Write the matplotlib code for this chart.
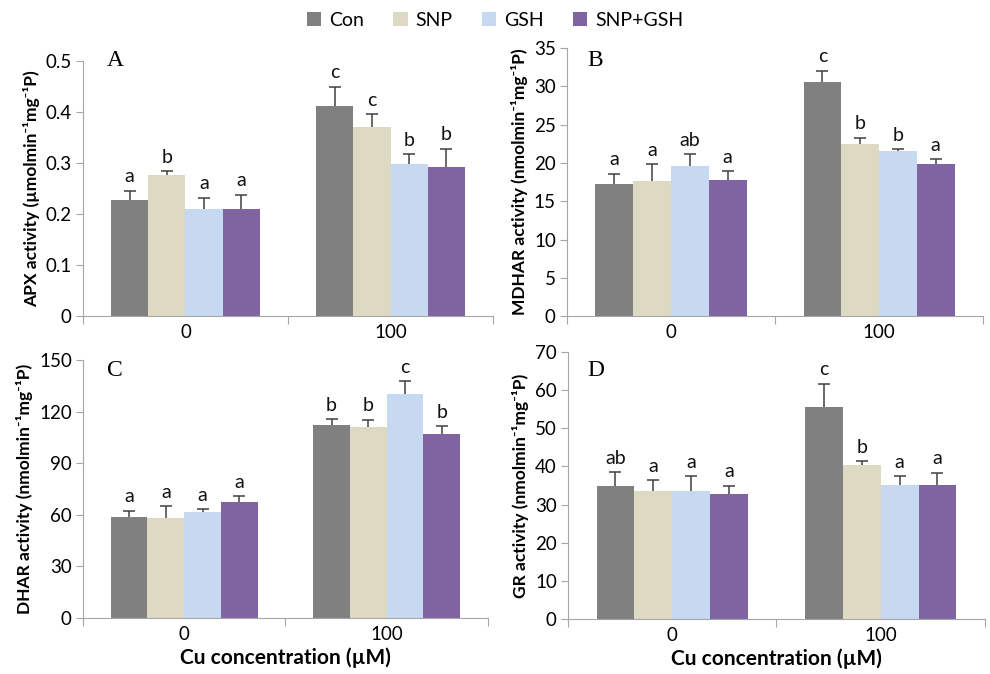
import numpy as np
import matplotlib
matplotlib.use("Agg")
import matplotlib.pyplot as plt
from matplotlib.patches import Patch

plt.rcParams['font.family'] = ['Lato', 'DejaVu Sans']

# data
groups = ["0", "100"]
treatments = ["Con", "SNP", "GSH", "SNP+GSH"]
colors = ["#808080", "#ddd9c3", "#c6d9f1", "#8064a2"]

apx_mean = [[0.227, 0.411], [0.277, 0.371], [0.210, 0.299], [0.209, 0.292]]
apx_err = [[0.019, 0.038], [0.007, 0.025], [0.022, 0.018], [0.029, 0.036]]
apx_lab = [["a", "c"], ["b", "c"], ["a", "b"], ["a", "b"]]

mdhar_mean = [[17.2, 30.6], [17.7, 22.5], [19.6, 21.6], [17.8, 19.8]]
mdhar_err = [[1.4, 1.4], [2.1, 0.8], [1.5, 0.2], [1.1, 0.7]]
mdhar_lab = [["a", "c"], ["a", "b"], ["ab", "b"], ["a", "a"]]

dhar_mean = [[58.8, 112.1], [58.3, 111.1], [61.4, 130.3], [67.4, 107.2]]
dhar_err = [[3.5, 3.4], [6.7, 4.1], [1.9, 7.3], [3.4, 4.1]]
dhar_lab = [["a", "b"], ["a", "b"], ["a", "c"], ["a", "b"]]

gr_mean = [[35.0, 55.7], [33.5, 40.3], [33.5, 35.2], [32.7, 35.2]]
gr_err = [[3.5, 6.0], [2.9, 1.1], [3.9, 2.2], [2.2, 3.2]]
gr_lab = [["ab", "c"], ["a", "b"], ["a", "a"], ["a", "a"]]

panels = [
    ("A", apx_mean, apx_err, apx_lab, 0.5, 0.1, "APX activity (µmolmin⁻¹mg⁻¹P)", [0.0838, 0.531, 0.4142, 0.3785], (0.078, 1.0)),
    ("B", mdhar_mean, mdhar_err, mdhar_lab, 35, 5, "MDHAR activity (nmolmin⁻¹mg⁻¹P)", [0.5727, 0.531, 0.4203, 0.3978], (0.067, 0.955)),
    ("C", dhar_mean, dhar_err, dhar_lab, 150, 30, "DHAR activity (nmolmin⁻¹mg⁻¹P)", [0.0838, 0.0831, 0.4091, 0.3829], (0.079, 0.96)),
    ("D", gr_mean, gr_err, gr_lab, 70, 10, "GR activity (nmolmin⁻¹mg⁻¹P)", [0.5737, 0.0816, 0.4212, 0.3961], (0.067, 0.93)),
]

fig = plt.figure(figsize=(9.9, 6.74), dpi=100)
axis_col = "#a6a6a6"
bw = 0.1815
x = np.array([0.5, 1.5])

for name, means, errs, labs, ymax, ystep, ylabel, rect, lpos in panels:
    ax = fig.add_axes(rect)
    for i in range(4):
        xi = x + (i - 1.5) * bw
        ax.bar(xi, means[i], bw, color=colors[i], edgecolor="none", zorder=2)
        # symmetric bars drawn under the bars, so only the upper half shows
        ax.errorbar(xi, means[i], yerr=errs[i], fmt="none",
                    ecolor="#404040", elinewidth=1.1, capsize=4, capthick=1.1, zorder=1)
        for j in range(2):
            ax.annotate(labs[i][j], (xi[j], means[i][j] + errs[i][j]),
                        xytext=(0, 4), textcoords="offset points",
                        ha="center", va="bottom", fontsize=14, color="#111111")
    ax.set_xlim(0, 2)
    ax.set_ylim(0, ymax)
    ax.set_yticks(np.arange(0, ymax + ystep / 2, ystep))
    if name == "A":
        ax.set_yticklabels(["0"] + ["%.1f" % v for v in np.arange(0.1, 0.51, 0.1)])
    ax.set_xticks([0, 1, 2])
    ax.set_xticklabels([])
    ax.set_xticks(x, minor=True)
    ax.set_xticklabels(groups, minor=True, fontsize=13.5)
    ax.tick_params(axis="x", which="minor", length=0, pad=6)
    ax.tick_params(axis="x", which="major", length=6, color=axis_col, direction="out")
    ax.tick_params(axis="y", length=5, color=axis_col, labelsize=13.5, pad=3)
    for s in ["top", "right"]:
        ax.spines[s].set_visible(False)
    for s in ["left", "bottom"]:
        ax.spines[s].set_color(axis_col)
    ax.set_ylabel(ylabel, fontsize=12.5, fontweight="bold", labelpad=4)
    ax.text(lpos[0], lpos[1], name, transform=ax.transAxes, ha="center", va="center",
            fontsize=17, family="Liberation Serif")
    if name in ("C", "D"):
        ax.set_xlabel("Cu concentration (µM)", fontsize=15, fontweight="bold", labelpad=3)

handles = [Patch(facecolor=c, edgecolor="none") for c in colors]
fig.legend(handles, treatments, loc="upper center", bbox_to_anchor=(0.5, 1.008), ncol=4,
           frameon=False, fontsize=14, handlelength=0.75, handleheight=0.75,
           handletextpad=0.4, columnspacing=1.5)

fig.savefig("out.png", dpi=100)
